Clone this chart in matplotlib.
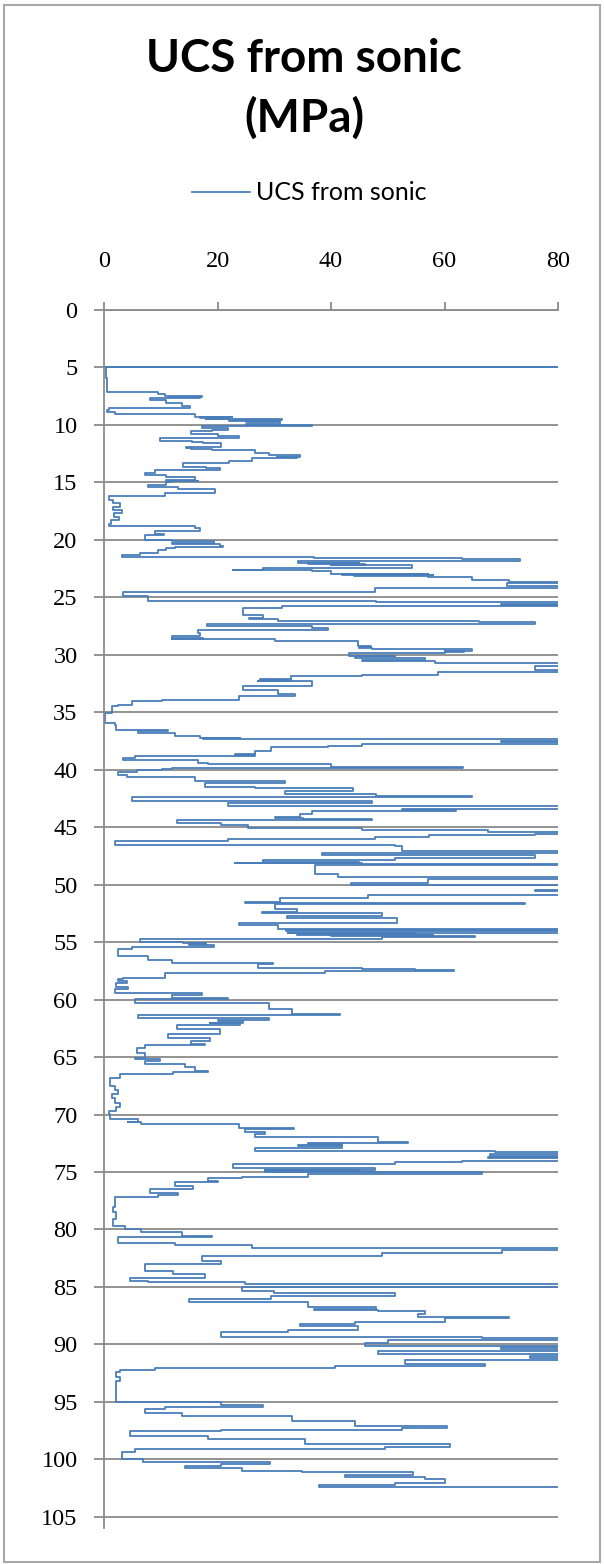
import numpy as np
import matplotlib.pyplot as plt
from matplotlib.patches import Rectangle

depth_a = [4.97, 5.0, 5.04, 5.9, 6.0, 7.1, 7.15, 7.33, 7.5, 7.55, 7.6, 7.65, 7.7, 7.82, 8.05, 8.35, 8.55,
           8.69, 8.84, 9.04, 9.27, 9.35, 9.4, 9.45, 9.5, 9.6, 9.65, 9.7, 9.76, 9.9, 10.0, 10.1, 10.29,
           10.43, 10.55, 10.78, 11.0, 11.15, 11.39, 11.45, 11.6, 11.88, 12.0, 12.11, 12.2, 12.46, 12.6,
           12.75, 12.8, 12.85, 13.18, 13.3, 13.62, 13.75, 13.91, 14.2, 14.35, 14.5, 14.78, 14.85, 14.9,
           15.0, 15.2, 15.44, 15.6, 15.88, 16.17, 16.22, 16.51, 16.8, 17.1, 17.4, 17.7, 18.0, 18.3, 18.6,
           18.83, 18.98, 19.27, 19.47, 19.6, 20.0, 20.1, 20.28, 20.4, 20.5, 20.63, 20.75, 20.9, 21.1,
           21.3, 21.45]
ucs_a = [0.3, 95, 0.4, 0.3, 0.5, 0.5, 7.5, 9.6, 10.7, 17.2, 11.5, 17.0, 12.0, 8.1, 11.0, 13.7, 15.2,
         0.8, 0.5, 1.9, 16.0, 22.5, 17.0, 22.0, 18.0, 31.3, 22.0, 31.0, 25.0, 31.0, 25.0, 36.6, 17.2,
         21.9, 19.0, 15.4, 20.0, 23.7, 9.9, 15.5, 17.5, 20.7, 14.5, 15.4, 19.0, 26.6, 29.0,
         34.5, 30.5, 34.0, 26.0, 22.0, 14.0, 18.0, 20.4, 9.0, 7.2, 11.0, 16.0, 11.0, 16.5,
         12.0, 11.0, 7.8, 13.0, 19.6, 10.7, 3.7, 0.8, 1.5, 2.8, 1.6, 3.1, 1.8, 2.6, 1.2,
         0.8, 16.0, 16.9, 9.0, 10.5, 7.2, 12.0, 19.3, 12.0, 20.5, 21.0, 12.5, 11.0, 9.5,
         6.3, 3.2]

depth_b = [21.6, 21.7, 21.87, 22.0, 22.05, 22.1, 22.15, 22.2, 22.45, 22.62, 22.66, 22.75, 22.95, 23.0,
           23.05, 23.1, 23.15, 23.2, 23.25, 23.47, 23.67, 23.76, 24.0, 24.15, 24.54, 24.62, 24.91, 25.35,
           25.44, 25.55, 25.65, 25.75, 25.93, 26.22, 26.51, 26.8, 26.86, 26.9, 27.09, 27.18, 27.29, 27.53,
           27.67, 27.87, 28.1, 28.4, 28.5, 28.6, 28.65, 28.83, 29.27, 29.35, 29.4, 29.47, 29.64, 29.7,
           29.75, 29.84, 30.08, 30.14, 30.28, 30.43, 30.57, 30.71, 31.0, 31.3, 31.5, 31.8, 31.86, 32.1,
           32.2, 32.25, 32.3, 32.68, 33.03, 33.38, 33.61, 33.9, 34.04, 34.33, 34.48, 35.06, 35.93, 36.07,
           36.51, 36.65, 36.8, 37.08, 37.2, 37.25, 37.3, 37.32, 37.52, 37.62, 37.73]
ucs_b = [37.0, 63.0, 73.3, 34.2, 45.0, 36.0, 46.0, 40.0, 54.2, 28.0, 22.8, 36.6, 40.0, 57.0,
         42.0, 58.0, 44.0, 57.0, 60.0, 64.8, 71.3, 95, 71.0, 95, 47.8, 3.4, 3.4, 7.8,
         48.0, 95, 70.0, 95, 31.3, 24.5, 24.5, 28.0, 25.5, 28.4, 30.7, 66.0, 76.0, 18.1,
         36.6, 39.5, 16.6, 17.0, 12.0, 17.5, 11.9, 30.1, 44.8, 47.0, 45.0, 47.2, 64.8, 60.0,
         63.5, 60.1, 43.1, 51.3, 44.2, 56.6, 45.4, 58.3, 95, 76.0, 95, 58.9, 45.4, 33.0,
         27.5, 33.0, 27.2, 36.6, 24.5, 30.7, 33.7, 23.7, 10.2, 4.9, 2.5, 1.4, 0.2, 1.9,
         2.2, 11.3, 6.0, 12.5, 17.0, 24.0, 17.5, 24.0, 95, 70.0, 95]

depth_c = [37.9, 38.0, 38.39, 38.6, 38.68, 38.82, 38.97, 39.17, 39.4, 39.46, 39.8, 39.84, 39.9, 39.98,
           40.19, 40.48, 40.65, 41.0, 41.14, 41.52, 41.63, 41.87, 42.07, 42.3, 42.36, 42.74, 42.88,
           43.17, 43.4, 43.5, 43.55, 43.6, 43.81, 44.15, 44.2, 44.25, 44.39, 44.62, 44.85, 45.06, 45.26,
           45.43, 45.55, 45.72, 45.87, 46.01, 46.16, 46.36, 46.59, 46.6, 46.8, 47.08, 47.23, 47.46,
           47.66, 47.86, 48.0, 48.1, 48.15, 48.24, 48.33, 49.05, 49.31, 49.54, 49.83, 50.04, 50.1, 50.5,
           50.55, 50.6, 50.94, 51.14, 51.5, 51.57, 51.72, 52.15, 52.4, 52.5, 52.73, 52.93, 53.31, 53.54,
           53.89, 53.95, 54.05, 54.18]
ucs_c = [45.4, 39.5, 29.5, 26.6, 23.1, 26.6, 5.5, 3.4, 16.5, 18.4, 40.0, 63.3, 12.0, 10.2,
         5.8, 2.5, 4.0, 16.0, 31.9, 17.8, 26.6, 43.9, 31.9, 48.0, 64.8, 4.9, 47.2,
         21.9, 95, 52.5, 62.0, 58.3, 36.6, 34.5, 30.1, 35.0, 47.2, 12.8, 20.7, 25.4, 45.4,
         67.7, 95, 76.0, 57.2, 47.8, 21.9, 1.9, 1.9, 51.3, 52.5, 52.5, 95, 38.4,
         76.0, 51.3, 28.0, 45.0, 23.1, 45.4, 95, 37.2, 41.3, 95, 57.0, 43.6, 95, 95,
         76.0, 95, 95, 46.6, 31.0, 24.8, 74.2, 30.1, 34.0, 27.8, 48.9, 32.2, 51.6, 23.7,
         30.7, 95, 32.0, 95]

depth_d = [54.24, 54.3, 54.35, 54.4, 54.45, 54.53, 54.76, 54.82, 55.0, 55.1, 55.2, 55.25, 55.4, 55.63,
           56.2, 56.56, 56.79, 56.85, 56.93, 57.22, 57.31, 57.42, 57.51, 57.71, 58.09, 58.18, 58.38,
           58.53, 58.87, 59.05, 59.45, 59.6, 59.85, 59.97, 60.32, 60.79, 61.28, 61.34, 61.57, 61.77,
           61.9, 62.0, 62.05, 62.23, 62.52, 62.58, 63.02, 63.31, 63.6, 63.89, 63.97, 64.23, 64.61,
           65.04, 65.19, 65.33, 65.56, 65.83, 66.2, 66.29, 66.43, 66.78, 67.51, 67.9, 68.23, 68.6,
           68.96, 69.3, 69.69, 69.98, 70.35, 70.64]
ucs_d = [32.5, 55.0, 34.0, 58.0, 40.0, 65.4, 48.9, 6.3, 6.3, 14.0, 18.0, 15.0, 19.3, 4.9,
         2.5, 7.8, 11.9, 23.7, 29.8, 27.2, 45.4, 54.8, 61.6, 38.9, 10.7, 3.4, 2.5,
         4.0, 2.2, 4.3, 1.9, 17.2, 12.0, 21.9, 5.5, 29.0, 33.1, 41.6, 6.0, 29.0,
         20.0, 24.5, 18.7, 24.0, 12.8, 17.8, 20.4, 11.3, 18.7, 15.4, 17.8, 7.2, 5.8,
         7.2, 5.5, 9.9, 7.2, 14.3, 16.0, 18.4, 12.2, 2.8, 1.1, 2.0, 2.5, 1.4,
         1.9, 2.8, 2.2, 0.8, 1.1, 6.0]

depth_e = [70.69, 70.84, 71.13, 71.28, 71.51, 71.71, 71.91, 72.38, 72.49, 72.6, 72.65, 72.72, 72.9,
           73.16, 73.3, 73.45, 73.6, 73.65, 73.74, 74.03, 74.11, 74.26, 74.61, 74.81, 74.85, 74.9,
           74.98, 75.19, 75.39, 75.56, 75.8, 75.91, 76.2, 76.49, 76.84, 77.01, 77.13, 77.36, 78.0,
           78.52, 79.1, 79.68, 79.97, 80.2, 80.55, 80.69, 81.19, 81.36, 81.65, 81.79, 82.05, 82.34,
           82.72, 83.0, 83.59, 83.88, 84.2, 84.46, 84.6, 84.75, 84.83, 85.04, 85.33, 85.5, 85.76,
           86.05, 86.29, 86.78, 86.95, 87.0, 87.1, 87.22]
ucs_e = [4.3, 6.6, 23.7, 33.4, 24.8, 28.4, 26.6, 48.3, 53.6, 36.0, 42.0, 34.2, 41.9,
         26.6, 68.9, 95, 68.0, 95, 67.7, 95, 63.0, 51.3, 22.8, 47.8, 28.4, 45.0,
         28.4, 66.6, 36.0, 24.3, 18.4, 20.1, 12.5, 15.7, 8.1, 13.1, 9.6, 1.9, 2.0,
         1.6, 2.2, 1.6, 3.7, 6.6, 13.7, 19.0, 2.5, 12.5, 26.0, 95, 70.1, 48.9,
         17.2, 20.7, 7.2, 12.2, 17.8, 4.6, 7.8, 24.8, 95, 95, 24.3, 30.0, 51.3,
         29.5, 14.9, 36.0, 48.0, 37.0, 48.3, 56.6]

depth_f = [87.35, 87.64, 87.73, 88.08, 88.22, 88.37, 88.72, 88.95, 89.38, 89.47, 89.59, 89.88, 90.11,
           90.25, 90.4, 90.55, 90.83, 90.97, 91.15, 91.32, 91.7, 91.84, 92.08, 92.22, 92.43, 92.86,
           93.15, 93.58, 94.97, 95.03, 95.26, 95.41, 95.61, 95.99, 96.25, 96.63, 97.06, 97.27, 97.41,
           97.5, 97.94, 98.22, 98.65, 98.94, 99.09, 99.38, 99.96, 100.19, 100.39, 100.54, 100.77,
           100.97, 101.12, 101.32, 101.49, 101.75, 102.04, 102.27, 102.42, 102.56]
ucs_f = [56.6, 55.4, 71.3, 60.1, 44.2, 34.5, 44.8, 32.5, 20.7, 66.6, 95, 50.1, 46.0,
         95, 70.0, 95, 48.3, 95, 75.0, 95, 53.0, 67.1, 40.7, 9.0, 2.8, 2.2,
         2.8, 2.2, 2.2, 7.2, 20.7, 28.1, 10.7, 7.2, 13.7, 33.1, 44.2, 60.4, 52.5,
         20.7, 4.6, 18.4, 35.4, 61.0, 49.5, 5.5, 3.1, 6.9, 29.3, 20.7, 14.3,
         24.3, 34.8, 54.5, 42.5, 56.6, 60.1, 51.3, 37.8, 95]

x_ticks = [0, 20, 40, 60, 80]
y_ticks = list(range(0, 106, 5))
LINE_BLUE = '#4a7ebb'
GRID_GREY = '#8a8a8a'


def plot_log():
    depth = np.concatenate([depth_a, depth_b, depth_c, depth_d, depth_e, depth_f])
    ucs = np.concatenate([ucs_a, ucs_b, ucs_c, ucs_d, ucs_e, ucs_f])

    fig = plt.figure(figsize=(6.04, 15.64), dpi=100)
    ax = fig.add_axes([0.1722, 0.0228, 0.7517, 0.7790])

    # dense log reads as near-flat runs between readings, so hold each value down to the next depth
    line, = ax.plot(ucs, depth, color=LINE_BLUE, lw=1.3, drawstyle='steps-post',
                    label='UCS from sonic')

    ax.set_xlim(0, 80)
    ax.set_ylim(106, 0)
    ax.set_xticks(x_ticks)
    ax.set_yticks(y_ticks)
    ax.xaxis.tick_top()

    for side in ('right', 'bottom'):
        ax.spines[side].set_visible(False)
    for side in ('left', 'top'):
        ax.spines[side].set_color(GRID_GREY)
        ax.spines[side].set_linewidth(1.3)

    ax.grid(True, axis='y', color=GRID_GREY, lw=1.3)
    ax.set_axisbelow(True)
    ax.tick_params(axis='x', direction='out', length=6, width=1.3, color=GRID_GREY, pad=21)
    ax.tick_params(axis='y', direction='out', length=7, width=1.3, color=GRID_GREY, pad=12)
    for lab in ax.get_xticklabels() + ax.get_yticklabels():
        lab.set_fontfamily('Liberation Serif')
        lab.set_fontsize(17.5)

    fig.text(304 / 604, 1 - 72 / 1564, 'UCS from sonic', ha='center', va='baseline',
             family='Lato', weight='bold', fontsize=33)
    fig.text(304 / 604, 1 - 132 / 1564, '(MPa)', ha='center', va='baseline',
             family='Lato', weight='bold', fontsize=33)

    fig.legend(handles=[line], loc='center', bbox_to_anchor=(0.512, 1 - 193 / 1564),
               frameon=False, prop={'family': 'Lato', 'size': 18},
               handlelength=2.3, handletextpad=0.25)

    fig.add_artist(Rectangle((0.006, 0.0015), 0.988, 0.9955, transform=fig.transFigure,
                             fill=False, edgecolor='#a8a8a8', lw=1.5))

    fig.savefig('out.png', dpi=100)


if __name__ == '__main__':
    plot_log()
